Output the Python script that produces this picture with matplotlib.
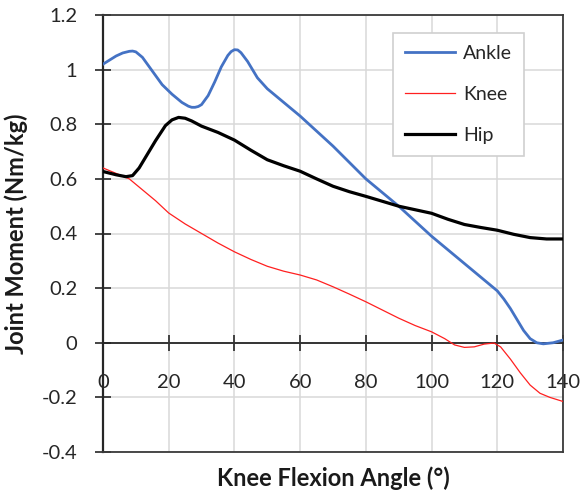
import matplotlib
matplotlib.use("Agg")
import matplotlib.pyplot as plt
from matplotlib.lines import Line2D

plt.rcParams['font.family'] = ['Lato', 'DejaVu Sans']

ankle_x = [0, 2, 4, 6, 8, 9, 10, 12, 15, 18, 21, 24, 26, 27, 28, 29, 30, 32, 34, 36, 38, 39, 40, 41, 42, 44,
           47, 50, 55, 60, 65, 70, 75, 80, 85, 90, 95, 100, 105, 110, 115, 120, 122, 124, 126, 128, 130,
           132, 134, 137, 140]
ankle_y = [1.02, 1.035, 1.05, 1.061, 1.067, 1.068, 1.065, 1.045, 0.995, 0.945, 0.91, 0.88, 0.866, 0.862,
           0.862, 0.865, 0.872, 0.905, 0.955, 1.01, 1.052, 1.066, 1.073, 1.072, 1.062, 1.03, 0.97, 0.93,
           0.88, 0.83, 0.775, 0.72, 0.66, 0.6, 0.55, 0.5, 0.445, 0.39, 0.34, 0.29, 0.24, 0.19, 0.16, 0.125,
           0.085, 0.045, 0.015, 0.0, -0.004, 0.0, 0.01]

knee_x = [0, 4, 8, 12, 16, 20, 25, 30, 35, 40, 45, 50, 55, 60, 65, 70, 75, 80, 85, 90, 95, 100, 104, 107,
          110, 113, 116, 119, 121, 124, 127, 130, 133, 136, 140]
knee_y = [0.64, 0.62, 0.60, 0.56, 0.52, 0.475, 0.435, 0.40, 0.365, 0.333, 0.305, 0.28, 0.262, 0.248, 0.23,
          0.205, 0.178, 0.15, 0.12, 0.09, 0.063, 0.04, 0.015, -0.008, -0.017, -0.015, -0.005, -0.001,
          -0.015, -0.06, -0.11, -0.155, -0.185, -0.2, -0.215]

hip_x = [0, 4, 7, 9, 11, 13, 16, 19, 21, 23, 25, 27, 30, 35, 40, 45, 50, 55, 60, 65, 70, 75, 80, 85, 90, 95,
         100, 105, 110, 115, 120, 125, 130, 135, 140]
hip_y = [0.627, 0.615, 0.608, 0.612, 0.64, 0.68, 0.74, 0.795, 0.816, 0.825, 0.822, 0.812, 0.793, 0.77,
         0.742, 0.705, 0.67, 0.648, 0.628, 0.6, 0.573, 0.553, 0.536, 0.518, 0.5, 0.487, 0.474, 0.452,
         0.433, 0.422, 0.412, 0.397, 0.385, 0.38, 0.38]

x_ticks = [0, 20, 40, 60, 80, 100, 120, 140]
y_ticks = [-0.4, -0.2, 0, 0.2, 0.4, 0.6, 0.8, 1.0, 1.2]
y_tick_labels = ['-0.4', '-0.2', '0', '0.2', '0.4', '0.6', '0.8', '1', '1.2']

fig = plt.figure(figsize=(5.85, 4.92), dpi=100)
ax = fig.add_axes([103 / 585, 40 / 492, 460 / 585, 437 / 492])

ax.plot(ankle_x, ankle_y, color='#4472C4', lw=2.0, label='Ankle', solid_joinstyle='round', zorder=3)
ax.plot(knee_x, knee_y, color='#FF2020', lw=0.9, label='Knee', zorder=3)
ax.plot(hip_x, hip_y, color='black', lw=2.3, label='Hip', solid_joinstyle='round', zorder=3)

ax.set_xlim(0, 140)
ax.set_ylim(-0.4, 1.2)
ax.set_xticks(x_ticks)
ax.set_yticks(y_ticks)
ax.set_yticklabels(y_tick_labels)
ax.grid(True, color='#D9D9D9', lw=1.1, zorder=0)
ax.set_axisbelow(True)

ax.spines['bottom'].set_position(('data', 0))
ax.spines['bottom'].set_color('#262626')
ax.spines['bottom'].set_linewidth(1.3)
ax.spines['left'].set_color('#262626')
ax.spines['left'].set_linewidth(1.6)
for s in ['top', 'right']:
    ax.spines[s].set_color('#3a3a3a')
    ax.spines[s].set_linewidth(1.3)
ax.add_line(Line2D([0, 1], [0, 0], transform=ax.transAxes, color='#3a3a3a', lw=1.3, clip_on=False, zorder=4))

ax.tick_params(axis='both', direction='inout', length=11, width=1.2, color='#262626',
               labelsize=14.5, labelcolor='#262626')
ax.tick_params(axis='x', pad=17)
ax.tick_params(axis='y', pad=13)

ax.set_xlabel('Knee Flexion Angle (°)', fontsize=17, fontweight='bold', color='#1a1a1a')
ax.set_ylabel('Joint Moment (Nm/kg)', fontsize=17, fontweight='bold', color='#1a1a1a')
ax.xaxis.set_label_coords(0.5, -0.033)
ax.yaxis.set_label_coords(-0.162, 0.5)
ax.xaxis.label.set_va('top')

leg = ax.legend(loc='upper left', bbox_to_anchor=((393 - 103) / 460, (452 - 33) / 437), fontsize=14,
                frameon=True, fancybox=False, edgecolor='#D0D0D0', framealpha=1, borderaxespad=0,
                handlelength=2.6, handletextpad=0.4, labelspacing=1.25, borderpad=0.6)
leg.get_frame().set_linewidth(1.2)
for t in leg.get_texts():
    t.set_color('#262626')

fig.savefig('out.png', dpi=100)
